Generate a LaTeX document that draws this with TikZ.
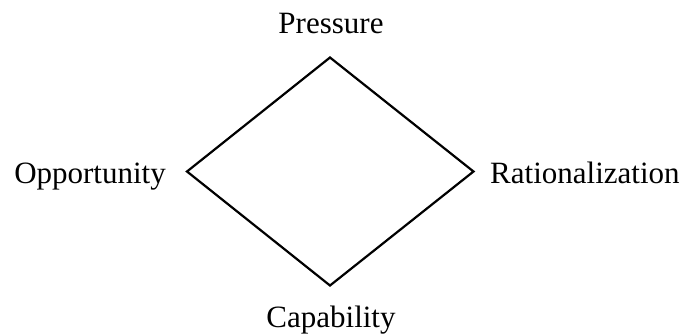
\documentclass[tikz,border=0pt]{standalone}
\usepackage{fontspec}
\setmainfont{Liberation Serif}
\begin{document}
\begin{tikzpicture}[
    x=1pt, y=-1pt,
    label/.style={inner sep=0pt, font=\fontsize{31}{36}\selectfont},
    edge/.style={line width=2.2pt, line join=miter}
]
\useasboundingbox (0, 0) rectangle (688, 335);

% Vertices
\coordinate (top) at (330, 57.5);
\coordinate (left) at (187, 171.5);
\coordinate (right) at (473.5, 171.5);
\coordinate (bottom) at (330, 285.5);

% Labels
\node[label, anchor=base] (pressure) at (331, 33) {Pressure};
\node[label, anchor=base east] (opportunity) at (166, 183) {Opportunity};
\node[label, anchor=base west] (rational) at (490, 183) {Rationalization};
\node[label, anchor=base] (capability) at (331, 327) {Capability};

% Diamond
\draw[edge] (top) -- (right) -- (bottom) -- (left) -- cycle;

\end{tikzpicture}
\end{document}
